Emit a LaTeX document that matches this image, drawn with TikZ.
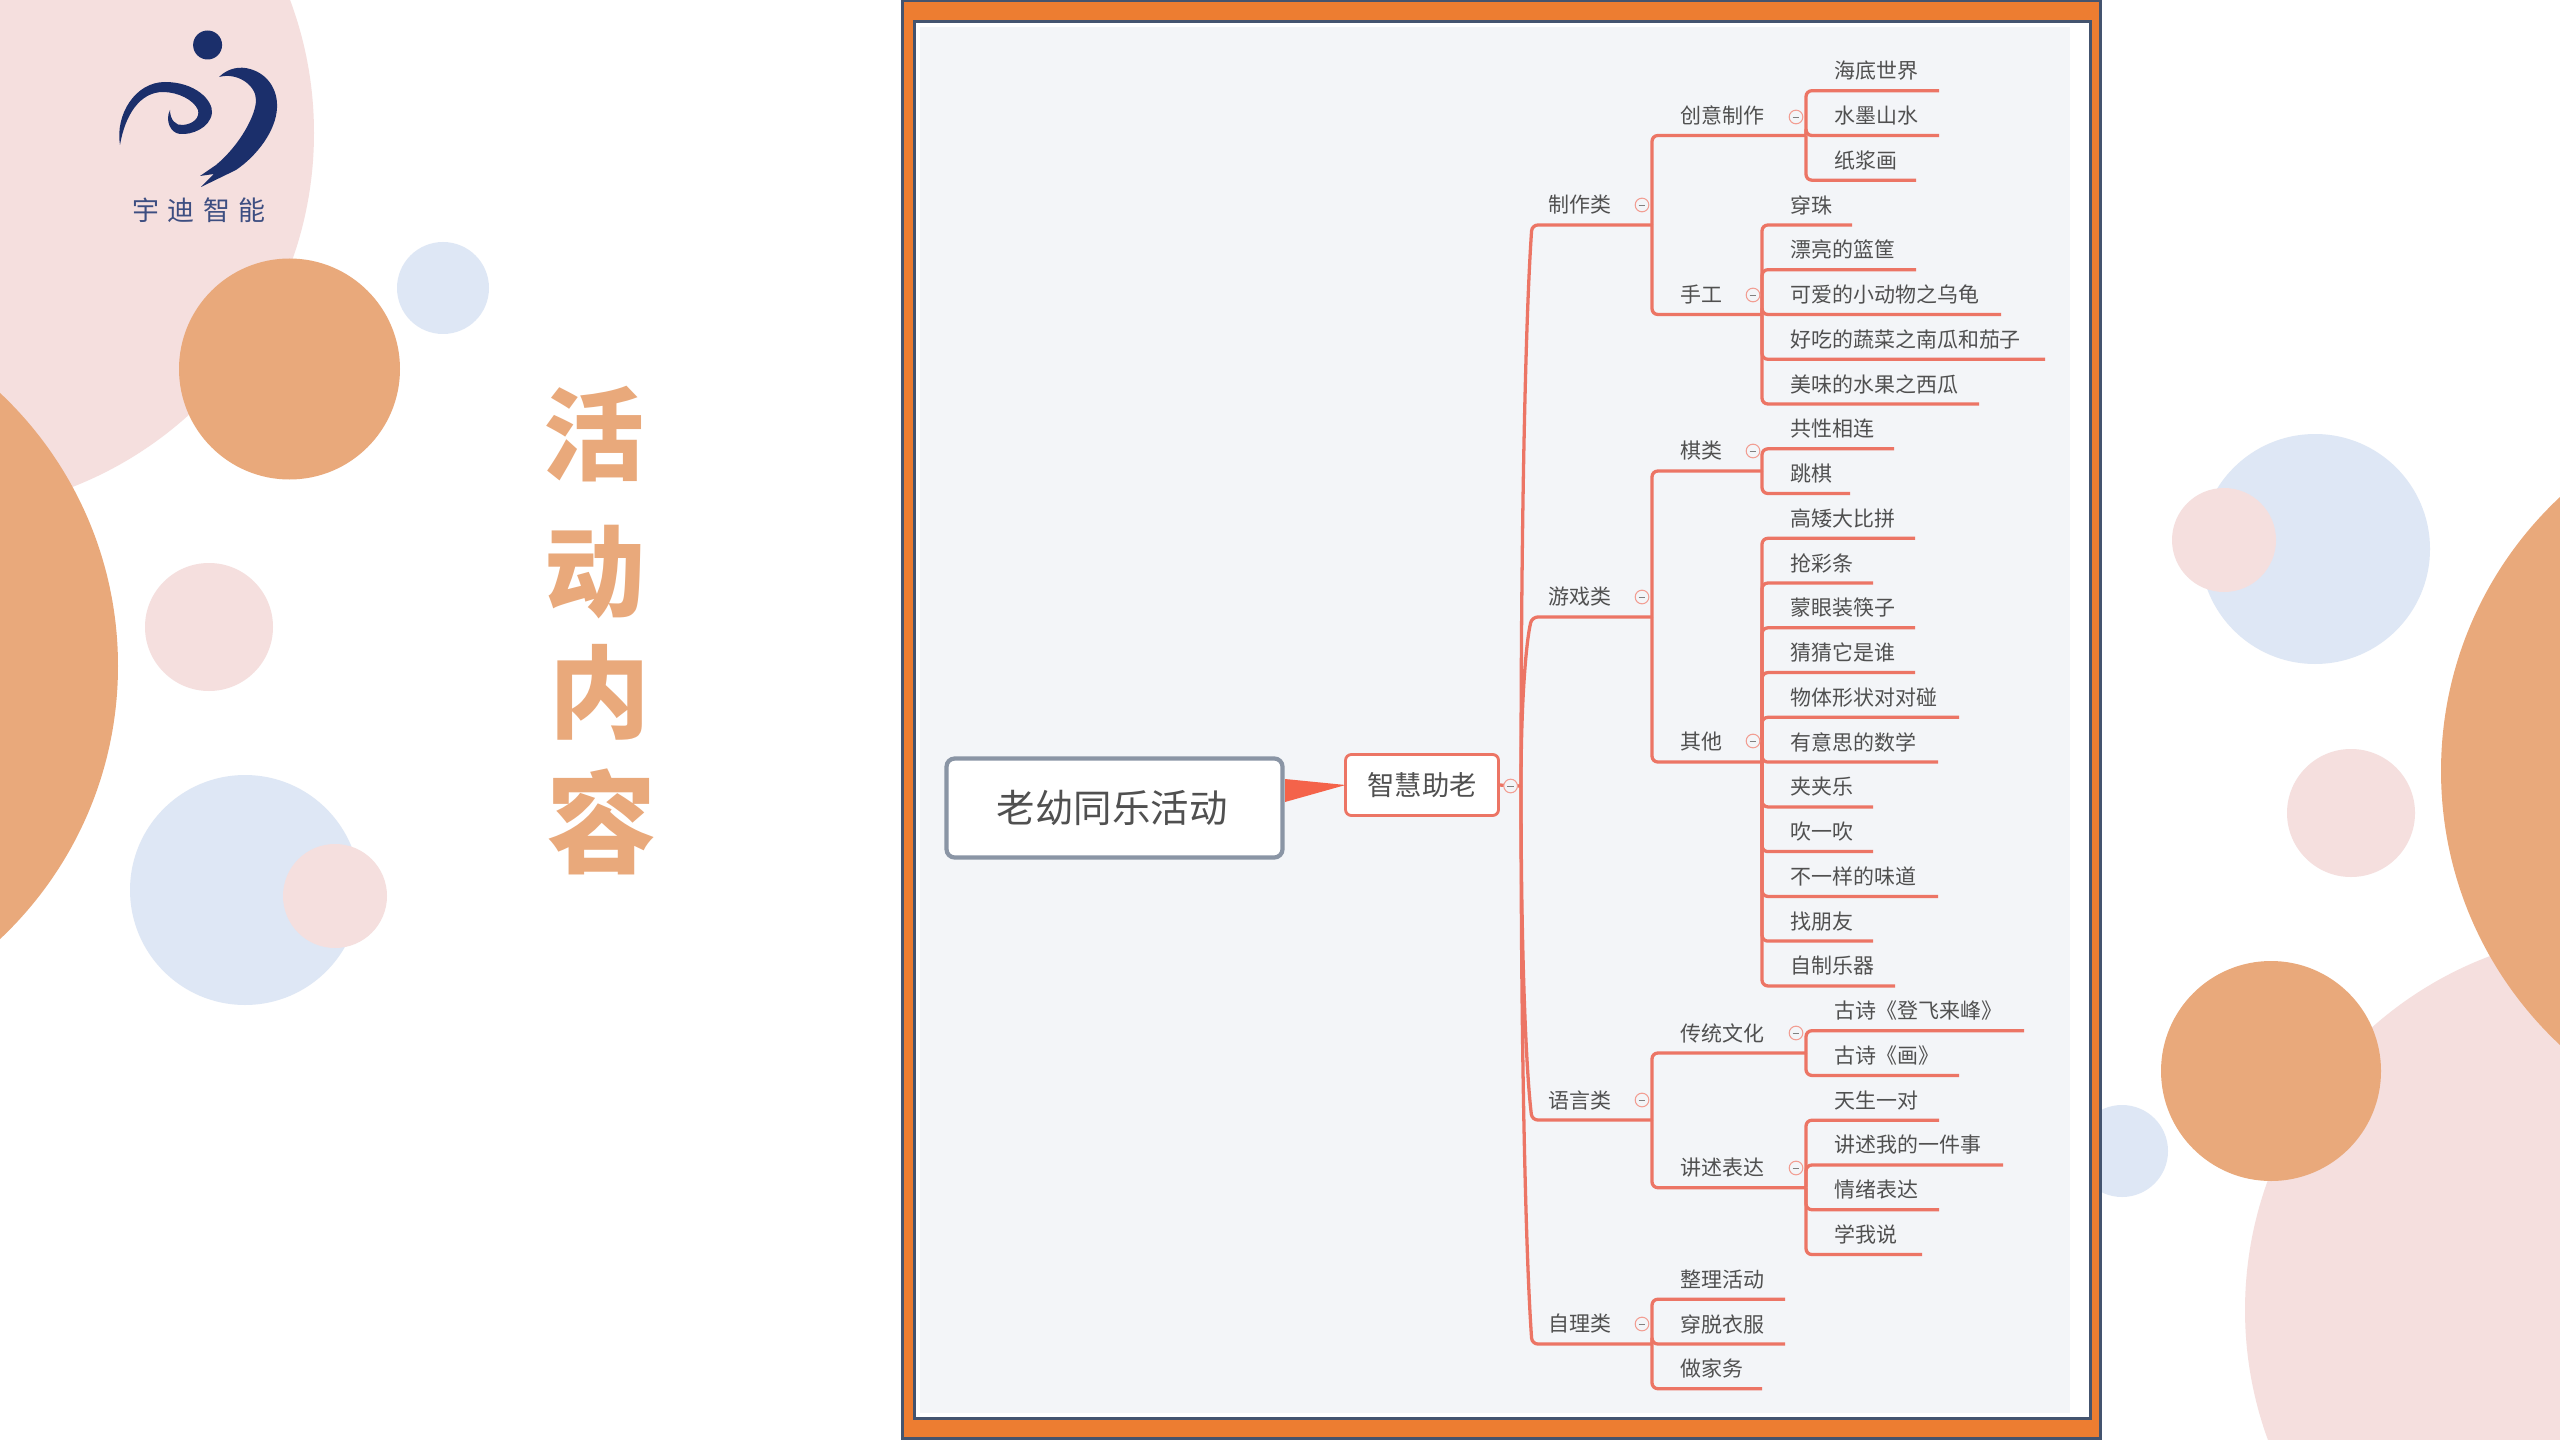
\documentclass[tikz,border=0pt]{standalone}
\usepackage{fontspec}
\setmainfont{Noto Sans CJK SC}
\definecolor{pinkc}{HTML}{F5DFDE}
\definecolor{orangec}{HTML}{E9A97B}
\definecolor{bluec}{HTML}{DEE7F5}
\definecolor{navyc}{HTML}{1B2F6B}
\definecolor{framenavy}{HTML}{44546F}
\definecolor{frameorange}{HTML}{ED7D31}
\definecolor{panelc}{HTML}{F3F5F8}
\definecolor{linkc}{HTML}{EC7565}
\definecolor{textc}{HTML}{505050}
\definecolor{rootc}{HTML}{8A95A5}
\definecolor{taperc}{HTML}{F4634A}
\tikzset{
  lbl/.style={anchor=west,inner sep=0pt,text=textc,font=\fontsize{17.9}{20}\selectfont},
  link/.style={draw=linkc,line width=2.8pt,rounded corners=5pt,line join=round},
  iconc/.style={circle,draw=linkc!70,fill=panelc,line width=0.9pt,minimum size=0.41cm,inner sep=0pt,
    path picture={\draw[gray,line width=0.8pt] ([xshift=-0.1cm]path picture bounding box.center) -- ([xshift=0.1cm]path picture bounding box.center);}},
  titlec/.style={text=orangec,inner sep=0pt,font=\fontsize{86}{90}\selectfont\bfseries},
}
% parent, name, text x, line y, line end x, text
\newcommand\bn[6]{%
  \coordinate (#2) at (#5,#4);
  \node[lbl] (#2t) at (#3,#4-20) {#6};
  \draw[link] (#1) |- (#2);
}
% name, line y, text
\newcommand\tb[3]{%
  \coordinate (#1) at (1652,#2);
  \coordinate (#1k) at (1532,#2);
  \node[lbl] (#1t) at (1548,#2-20) {#3};
  \draw[link] (hub) .. controls (1521,{786+(#2-786)*0.5}) and (1526,{786+(#2-786)*0.85}) .. (#1k) -- (#1);
}
\newcommand\ic[3]{\node[iconc] (#1) at (#2,#3) {};}
\begin{document}
\begin{tikzpicture}[x=0.03cm,y=-0.03cm]
\clip (0,0) rectangle (2560,1440);
\fill[white] (0,0) rectangle (2560,1440);
% left decoration
\fill[pinkc] (-66,133) circle (380);
\fill[orangec] (-257,666) circle (375);
\fill[orangec] (289.5,369) circle (110.5);
\fill[bluec] (443,288) circle (46);
\fill[pinkc] (209,627) circle (64);
\fill[bluec] (245,890) circle (115);
\fill[pinkc] (335,896) circle (52);
% right decoration
\fill[bluec] (2315,549) circle (115);
\fill[pinkc] (2224,540) circle (52);
\fill[pinkc] (2623,1310) circle (378);
\fill[orangec] (2816,771) circle (375);
\fill[pinkc] (2351,813) circle (64);
\fill[bluec] (2122,1151) circle (46);
\fill[orangec] (2271,1071) circle (110);
% logo
\fill[navyc] (207.6,45) circle (14.5);
\fill[navyc] (120,145) .. controls (115,115) and (135,82) .. (165,82)
  .. controls (195,82) and (213,100) .. (212,113)
  .. controls (210,128) and (192,135) .. (180,134)
  .. controls (170,133) and (165,120) .. (170,110)
  .. controls (170,120) and (176,126) .. (183,125)
  .. controls (193,124) and (200,118) .. (198,110)
  .. controls (194,100) and (178,92) .. (163,92)
  .. controls (140,92) and (125,115) .. (120,145) -- cycle;
\fill[navyc] (219,77) .. controls (228,68) and (240,66) .. (250,69)
  .. controls (268,74) and (278,90) .. (277,108)
  .. controls (276,130) and (258,155) .. (236,170)
  -- (201,187) -- (214,174) -- (200,176) -- (216,165)
  .. controls (240,145) and (256,115) .. (256,100)
  .. controls (256,85) and (237,72) .. (219,77) -- cycle;
\node[inner sep=0pt,text=navyc!85,font=\fontsize{23}{25}\selectfont] (logotext) at (199,210) {宇\hspace{7pt}迪\hspace{7pt}智\hspace{7pt}能};
% title
\node[titlec] (t1) at (594,434) {活};
\node[titlec] (t2) at (595,572) {动};
\node[titlec] (t3) at (600,692) {内};
\node[titlec,font=\fontsize{94}{98}\selectfont\bfseries] (t4) at (602,822) {容};
% frame
\fill[framenavy] (901,-2) rectangle (2102,1442);
\fill[frameorange] (904,2) rectangle (2099,1437);
\fill[framenavy] (913,20) rectangle (2092,1420);
\fill[white] (916,23) rectangle (2089,1417);
\fill[panelc] (920,27) rectangle (2070,1413);
% root and main topic
\node[draw=rootc,fill=white,line width=3.6pt,rounded corners=7pt,minimum width=336*0.03cm,minimum height=99*0.03cm,
  inner sep=0pt,outer sep=0pt,text=textc,font=\fontsize{32.8}{36}\selectfont] (root) at (1114.5,808) {\hspace*{-4pt}老幼同乐活动};
\node[draw=linkc,fill=white,line width=2.4pt,rounded corners=5pt,minimum width=153*0.03cm,minimum height=61*0.03cm,
  inner sep=0pt,outer sep=0pt,text=textc,font=\fontsize{23.3}{26}\selectfont] (zh) at (1422,785) {智慧助老};
\coordinate (ra) at (1285,779);
\coordinate (rb) at (1285,802);
\fill[taperc] (ra) -- (rb) -- (zh.west) -- cycle;
\coordinate (hub) at (1521,786);
\draw[link] (zh.east) -- (hub);
% first level
\tb{a}{225}{制作类}
\tb{b}{617}{游戏类}
\tb{c}{1120}{语言类}
\tb{d}{1344}{自理类}
% second level
\bn{a}{a1}{1680}{135.5}{1806}{创意制作}
\bn{a}{a2}{1680}{314.5}{1762}{手工}
\bn{b}{b1}{1680}{471}{1762}{棋类}
\bn{b}{b2}{1680}{762}{1762}{其他}
\bn{c}{c1}{1680}{1053}{1806}{传统文化}
\bn{c}{c2}{1680}{1187.7}{1806}{讲述表达}
% leaves
\bn{a1}{l0}{1834}{90.7}{1939}{海底世界}
\bn{a1}{l1}{1834}{135.5}{1939}{水墨山水}
\bn{a1}{l2}{1834}{180.2}{1916}{纸浆画}
\bn{a2}{l3}{1790}{225}{1852}{穿珠}
\bn{a2}{l4}{1790}{269.7}{1916}{漂亮的篮筐}
\bn{a2}{l5}{1790}{314.5}{2001}{可爱的小动物之乌龟}
\bn{a2}{l6}{1790}{359.3}{2045}{好吃的蔬菜之南瓜和茄子}
\bn{a2}{l7}{1790}{404}{1979}{美味的水果之西瓜}
\bn{b1}{l8}{1790}{448.8}{1894}{共性相连}
\bn{b1}{l9}{1790}{493.5}{1850}{跳棋}
\bn{b2}{l10}{1790}{538.3}{1915}{高矮大比拼}
\bn{b2}{l11}{1790}{583}{1873}{抢彩条}
\bn{b2}{l12}{1790}{627.8}{1915}{蒙眼装筷子}
\bn{b2}{l13}{1790}{672.6}{1915}{猜猜它是谁}
\bn{b2}{l14}{1790}{717.3}{1959}{物体形状对对碰}
\bn{b2}{l15}{1790}{762.1}{1938}{有意思的数学}
\bn{b2}{l16}{1790}{806.9}{1873}{夹夹乐}
\bn{b2}{l17}{1790}{851.6}{1873}{吹一吹}
\bn{b2}{l18}{1790}{896.4}{1938}{不一样的味道}
\bn{b2}{l19}{1790}{941.1}{1873}{找朋友}
\bn{b2}{l20}{1790}{985.9}{1895}{自制乐器}
\bn{c1}{l21}{1834}{1030.7}{2024}{古诗《登飞来峰》}
\bn{c1}{l22}{1834}{1075.4}{1959}{古诗《画》}
\bn{c2}{l23}{1834}{1120.2}{1939}{天生一对}
\bn{c2}{l24}{1834}{1165}{2003}{讲述我的一件事}
\bn{c2}{l25}{1834}{1209.7}{1939}{情绪表达}
\bn{c2}{l26}{1834}{1254.5}{1922}{学我说}
\bn{d}{l27}{1680}{1299.2}{1785}{整理活动}
\bn{d}{l28}{1680}{1344}{1785}{穿脱衣服}
\bn{d}{l29}{1680}{1388.7}{1762}{做家务}
% collapse icons
\ic{i0}{1510.6}{786}
\ic{i1}{1642}{205}
\ic{i2}{1642}{597}
\ic{i3}{1642}{1100}
\ic{i4}{1642}{1324}
\ic{i5}{1796}{117}
\ic{i6}{1753}{295}
\ic{i7}{1753}{451}
\ic{i8}{1753}{741}
\ic{i9}{1796}{1033}
\ic{i10}{1796}{1168}
\end{tikzpicture}
\end{document}
